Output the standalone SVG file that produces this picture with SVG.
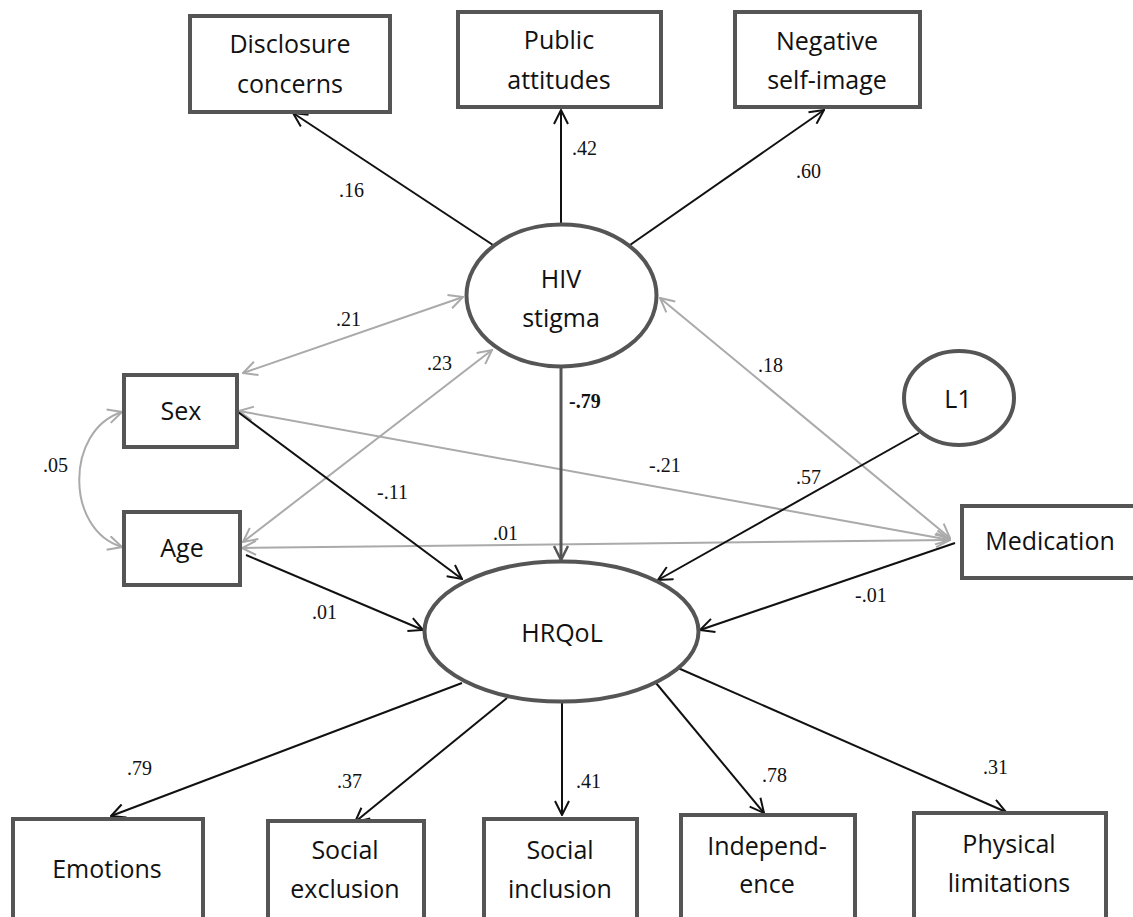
<svg xmlns="http://www.w3.org/2000/svg" width="1133" height="917" viewBox="0 0 1133 917">
<style>
.box{fill:#fff;stroke:#555;stroke-width:4}
.lat{fill:#fff;stroke:#555;stroke-width:4}
.t{font-family:"Open Sans","Liberation Sans",sans-serif;font-size:25px;fill:#111;text-anchor:middle}
.n{font-family:"Liberation Serif","Times New Roman",serif;font-size:20px;fill:#111}
.b{stroke:#111;stroke-width:2;fill:none;marker-end:url(#ah)}
.g{stroke:#aaa;stroke-width:2;fill:none;marker-end:url(#ahg);marker-start:url(#ahg)}
.d{stroke:#555;stroke-width:3;fill:none;marker-end:url(#ahd)}
</style>
<defs>
<marker id="ah" viewBox="0 0 16 16" refX="15" refY="8" markerWidth="16" markerHeight="16" markerUnits="userSpaceOnUse" orient="auto-start-reverse"><path d="M1,1 L15,8 L1,15" fill="none" stroke="#111" stroke-width="2"/></marker>
<marker id="ahg" viewBox="0 0 16 16" refX="15" refY="8" markerWidth="16" markerHeight="16" markerUnits="userSpaceOnUse" orient="auto-start-reverse"><path d="M1,1 L15,8 L1,15" fill="none" stroke="#aaa" stroke-width="2"/></marker>
<marker id="ahd" viewBox="0 0 16 16" refX="15" refY="8" markerWidth="16" markerHeight="16" markerUnits="userSpaceOnUse" orient="auto-start-reverse"><path d="M1,1 L15,8 L1,15" fill="none" stroke="#555" stroke-width="2.5"/></marker>
</defs>
<rect width="1133" height="917" fill="#fff"/>

<g id="connectors">
<path class="g" d="M243,373 L463,297"/>
<path class="g" d="M243,542 L492,350"/>
<path class="g" d="M660,298 L950,538"/>
<path class="g" d="M239,411 L950,540"/>
<path class="g" d="M242,548 L950,540"/>
<path class="g" d="M122,412 C65,430 65,530 122,547"/>
<path class="b" d="M493,245 L293,113"/>
<path class="b" d="M561,223 L561,110"/>
<path class="b" d="M630,245 L824,110"/>
<path class="b" d="M238,412 L462,579"/>
<path class="b" d="M246,555 L423,630"/>
<path class="b" d="M919,433 L658,580"/>
<path class="b" d="M955,543 L700,630"/>
<path class="b" d="M462,683 L111,816"/>
<path class="b" d="M507,698 L355,822"/>
<path class="b" d="M562,703 L562,815"/>
<path class="b" d="M656,683 L764,813"/>
<path class="b" d="M678,668 L1006,812"/>
<path class="d" d="M561,368 L561,560"/>
</g>

<g id="labels">
<text class="n" x="339" y="197">.16</text>
<text class="n" x="572" y="155">.42</text>
<text class="n" x="796" y="178">.60</text>
<text class="n" x="336" y="326">.21</text>
<text class="n" x="427" y="370">.23</text>
<text class="n" x="758" y="372">.18</text>
<text class="n" x="569" y="408" font-weight="bold">-.79</text>
<text class="n" x="43" y="472">.05</text>
<text class="n" x="649" y="472">-.21</text>
<text class="n" x="377" y="499">-.11</text>
<text class="n" x="796" y="484">.57</text>
<text class="n" x="493" y="540">.01</text>
<text class="n" x="312" y="619">.01</text>
<text class="n" x="855" y="602">-.01</text>
<text class="n" x="127" y="775">.79</text>
<text class="n" x="337" y="788">.37</text>
<text class="n" x="576" y="788">.41</text>
<text class="n" x="762" y="782">.78</text>
<text class="n" x="983" y="774">.31</text>
</g>

<g id="disclosure"><rect class="box" x="190" y="16" width="200" height="96"/><text class="t" x="290" y="53">Disclosure</text><text class="t" x="290" y="93">concerns</text></g>
<g id="public"><rect class="box" x="458" y="12" width="203" height="95"/><text class="t" x="559" y="49">Public</text><text class="t" x="559" y="89">attitudes</text></g>
<g id="negative"><rect class="box" x="735" y="12" width="185" height="95"/><text class="t" x="827" y="50">Negative</text><text class="t" x="827" y="89">self-image</text></g>
<g id="hivstigma"><ellipse class="lat" cx="561.5" cy="295.5" rx="95" ry="71"/><text class="t" x="561" y="288">HIV</text><text class="t" x="561" y="327">stigma</text></g>
<g id="sex"><rect class="box" x="124" y="375" width="113" height="72"/><text class="t" x="181" y="420">Sex</text></g>
<g id="age"><rect class="box" x="124" y="512" width="116" height="73"/><text class="t" x="182" y="557">Age</text></g>
<g id="l1"><ellipse class="lat" cx="959" cy="398" rx="55" ry="47"/><text class="t" x="958" y="408">L1</text></g>
<g id="medication"><rect class="box" x="962" y="506" width="200" height="72"/><text class="t" x="1050" y="550">Medication</text></g>
<g id="hrqol"><ellipse class="lat" cx="561.5" cy="631.5" rx="137" ry="70"/><text class="t" x="562" y="642">HRQoL</text></g>
<g id="emotions"><rect class="box" x="13" y="819" width="190" height="120"/><text class="t" x="107" y="878">Emotions</text></g>
<g id="socialexclusion"><rect class="box" x="268" y="821" width="156" height="120"/><text class="t" x="345" y="859">Social</text><text class="t" x="345" y="898">exclusion</text></g>
<g id="socialinclusion"><rect class="box" x="484" y="819" width="153" height="120"/><text class="t" x="560" y="859">Social</text><text class="t" x="560" y="898">inclusion</text></g>
<g id="independence"><rect class="box" x="681" y="815" width="174" height="120"/><text class="t" x="767" y="855">Independ-</text><text class="t" x="767" y="893">ence</text></g>
<g id="physical"><rect class="box" x="914" y="813" width="192" height="120"/><text class="t" x="1009" y="853">Physical</text><text class="t" x="1009" y="892">limitations</text></g>
</svg>
